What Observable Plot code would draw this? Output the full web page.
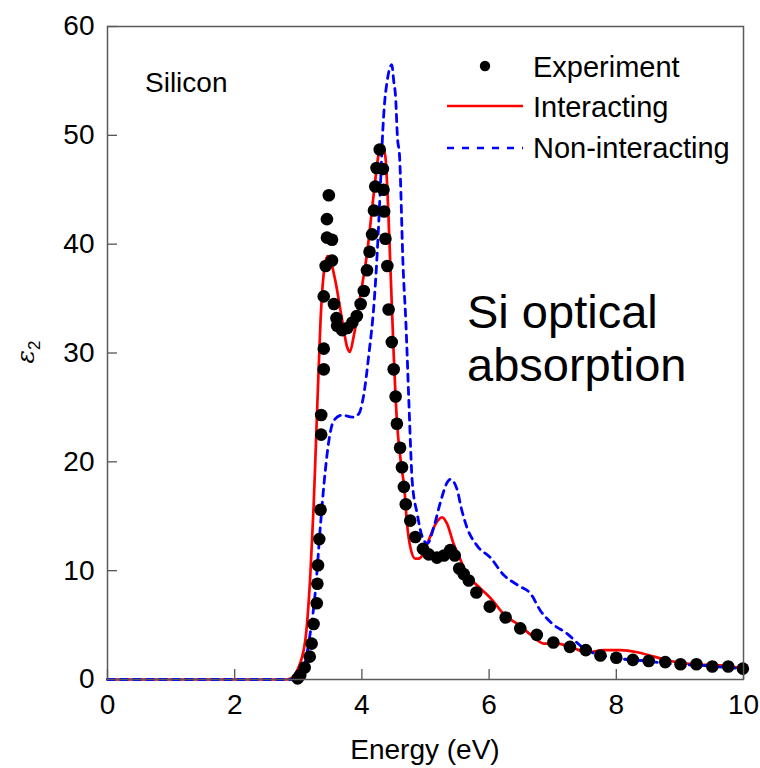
<!DOCTYPE html>
<html>
<head>
<meta charset="utf-8">
<script src="https://cdn.jsdelivr.net/npm/d3@7"></script>
<script src="https://cdn.jsdelivr.net/npm/@observablehq/plot@0.6"></script>
<style>
  body { margin: 0; background: #fff; }
  svg { display: block; }
</style>
</head>
<body>
<div id="chart"></div>
<script>
// Measured ε2 of silicon (photon energy in eV, ε2)
const experimentE = [2.99, 3.03, 3.10, 3.18, 3.21, 3.24, 3.29, 3.30, 3.31, 3.33, 3.35, 3.36, 3.36, 3.40, 3.40, 3.40, 3.43, 3.45, 3.45, 3.48,
  3.53, 3.53, 3.56, 3.60, 3.61, 3.69, 3.77, 3.85, 3.92, 3.98, 4.03, 4.08, 4.12, 4.16, 4.19, 4.21, 4.23, 4.28, 4.33, 4.34,
  4.35, 4.37, 4.40, 4.42, 4.47, 4.50, 4.53, 4.55, 4.60, 4.63, 4.66, 4.69, 4.76, 4.84, 4.96, 5.05, 5.18, 5.29, 5.39, 5.46,
  5.53, 5.60, 5.68, 5.80, 6.01, 6.26, 6.49, 6.75, 7.01, 7.27, 7.52, 7.75, 8.00, 8.26, 8.51, 8.77, 9.01, 9.26, 9.51, 9.76, 9.99];
const experimentEps = [0.1, 0.4, 1.1, 2.1, 3.3, 5.1, 7.0, 8.8, 10.5, 12.9, 15.6, 22.5, 24.3, 28.5, 30.4, 35.2, 38.0, 40.6, 42.3, 44.5,
  40.4, 38.5, 34.5, 33.2, 32.5, 32.1, 32.3, 32.8, 33.4, 34.5, 35.7, 37.6, 39.3, 40.9, 43.1, 45.3, 47.0, 48.7, 46.9, 45.0,
  43.0, 40.5, 38.0, 34.0, 31.0, 28.5, 26.0, 23.5, 21.3, 19.5, 17.7, 16.1, 14.6, 13.1, 12.0, 11.5, 11.2, 11.4, 11.9, 11.4,
  10.2, 9.7, 9.1, 8.0, 6.7, 5.7, 4.7, 4.1, 3.4, 3.0, 2.7, 2.2, 2.0, 1.8, 1.7, 1.6, 1.4, 1.4, 1.2, 1.2, 1.0];

// Calculation with electron-hole interaction
const interactingE = [0, 2.80, 2.88, 2.98, 3.11, 3.19, 3.24, 3.27, 3.31, 3.35, 3.40, 3.46, 3.50, 3.58, 3.69, 3.77, 3.81, 3.87, 3.98, 4.08,
  4.18, 4.27, 4.31, 4.37, 4.41, 4.45, 4.50, 4.55, 4.61, 4.67, 4.71, 4.76, 4.84, 4.89, 4.97, 5.05, 5.16, 5.26, 5.34, 5.44,
  5.55, 5.65, 5.86, 6.05, 6.23, 6.47, 6.68, 6.86, 7.07, 7.28, 7.54, 7.80, 8.07, 8.33, 8.59, 8.85, 9.22, 9.64, 10.0];
const interactingEps = [0, 0, 0.1, 0.8, 3.6, 9.7, 15.8, 20.5, 27.0, 33.0, 37.3, 38.9, 38.6, 36.7, 33.0, 30.5, 30.1, 31.5, 35.4, 39.1,
  44.3, 48.5, 49.2, 48.0, 43.7, 37.6, 29.9, 23.8, 20.1, 17.4, 14.3, 12.2, 11.1, 11.1, 11.6, 12.8, 14.3, 14.9, 14.3, 12.5,
  11.0, 9.7, 8.4, 7.3, 6.0, 5.0, 4.0, 3.3, 3.3, 3.0, 2.5, 2.7, 2.7, 2.5, 2.1, 1.7, 1.4, 1.3, 1.0];

// Independent-particle calculation
const nonInteractingE = [0, 2.95, 3.03, 3.17, 3.27, 3.35, 3.43, 3.47, 3.56, 3.69, 3.85, 3.95, 4.03, 4.11, 4.19, 4.24, 4.29, 4.33, 4.36, 4.39,
  4.44, 4.47, 4.50, 4.53, 4.56, 4.59, 4.65, 4.69, 4.74, 4.77, 4.79, 4.87, 4.95, 5.03, 5.13, 5.24, 5.34, 5.39, 5.50, 5.56,
  5.65, 5.81, 6.02, 6.23, 6.47, 6.65, 6.81, 7.00, 7.23, 7.44, 7.65, 7.86, 8.07, 8.48, 8.90, 9.32, 9.74, 10.0];
const nonInteractingEps = [0, 0, 0.1, 3.6, 8.2, 14.3, 19.5, 21.5, 23.8, 24.3, 24.1, 24.4, 26.2, 29.9, 34.5, 39.1, 45.2, 50.6, 53.2, 54.7,
  56.2, 56.5, 55.0, 53.5, 49.7, 48.3, 37.6, 33.0, 25.3, 20.7, 18.3, 15.2, 13.1, 12.5, 14.0, 16.4, 18.1, 18.4, 17.4, 15.8,
  14.0, 12.3, 11.2, 9.6, 8.6, 7.9, 6.3, 5.1, 4.2, 3.1, 2.4, 2.1, 1.9, 1.7, 1.4, 1.3, 1.1, 1.0];

const xTicks = [0, 2, 4, 6, 8, 10];
const yTicks = [0, 10, 20, 30, 40, 50, 60];

const experiment = experimentE.map((e, i) => ({e, eps: experimentEps[i]}));
const interacting = interactingE.map((e, i) => ({e, eps: interactingEps[i]}));
const nonInteracting = nonInteractingE.map((e, i) => ({e, eps: nonInteractingEps[i]}));

const FONT = "'Liberation Sans', Arial, Helvetica, sans-serif";
const W = 760, H = 768;
const mL = 107, mR = 17, mT = 26, mB = 89;
const TICK = 10;
const plotW = W - mL - mR, plotH = H - mT - mB;

const chart = Plot.plot({
  width: W,
  height: H,
  marginLeft: mL,
  marginRight: mR,
  marginTop: mT,
  marginBottom: mB,
  style: {fontFamily: FONT, fontSize: "28px", background: "#fff", color: "#000"},
  x: {domain: [0, 10]},
  y: {domain: [0, 60]},
  marks: [
    // tick labels only; the tick marks point inward and are drawn below
    Plot.axisX({ticks: xTicks, tickSize: 0, tickPadding: 15, label: null, fontSize: 28}),
    Plot.axisY({ticks: yTicks, tickSize: 0, tickPadding: 13, label: null, fontSize: 28}),
    Plot.tickX(xTicks, {x: d => d, insetTop: plotH - TICK, stroke: "#555", strokeWidth: 1.3}),
    Plot.tickY(yTicks, {y: d => d, insetRight: plotW - TICK, stroke: "#555", strokeWidth: 1.3}),
    Plot.line(interacting, {x: "e", y: "eps", stroke: "#ff0000", strokeWidth: 2.7, curve: "monotone-x"}),
    Plot.line(nonInteracting, {x: "e", y: "eps", stroke: "#0000ff", strokeWidth: 2.8, strokeDasharray: "7,6", curve: "monotone-x"}),
    Plot.dot(experiment, {x: "e", y: "eps", r: 6.3, fill: "#000", stroke: "none"}),
    Plot.frame({stroke: "#5a5a5a", strokeWidth: 1.5})
  ]
});

document.getElementById("chart").appendChild(chart);

const svg = d3.select(chart);

// legend inside the plot area
const leg = svg.append("g").attr("font-family", FONT).attr("font-size", 29).attr("fill", "#000")
  .attr("text-anchor", "start");
leg.append("circle").attr("cx", 485).attr("cy", 66).attr("r", 5.2).attr("fill", "#000");
leg.append("line").attr("x1", 447).attr("x2", 523).attr("y1", 106).attr("y2", 106)
  .attr("stroke", "#ff0000").attr("stroke-width", 2.7);
leg.append("line").attr("x1", 447).attr("x2", 523).attr("y1", 148).attr("y2", 148)
  .attr("stroke", "#0000ff").attr("stroke-width", 2.7).attr("stroke-dasharray", "7,8");
const legendLabels = ["Experiment", "Interacting", "Non-interacting"];
legendLabels.forEach((t, i) => {
  leg.append("text").attr("x", 533).attr("y", [77, 117, 158][i]).text(t);
});

// material name
svg.append("text").attr("x", 145).attr("y", 92).attr("text-anchor", "start").attr("font-family", FONT)
  .attr("font-size", 28).attr("fill", "#000").text("Silicon");

// annotation
const ann = svg.append("text").attr("text-anchor", "start").attr("font-family", FONT)
  .attr("font-size", 47).attr("fill", "#000");
ann.append("tspan").attr("x", 467).attr("y", 328).text("Si optical");
ann.append("tspan").attr("x", 467).attr("y", 381).text("absorption");

// axis titles
svg.append("text").attr("x", mL + plotW / 2).attr("y", 759).attr("text-anchor", "middle")
  .attr("font-family", FONT).attr("font-size", 28).attr("fill", "#000").text("Energy (eV)");
const yl = svg.append("text").attr("transform", "translate(34,352) rotate(-90)").attr("text-anchor", "middle")
  .attr("font-family", FONT).attr("font-size", 25).attr("fill", "#000");
yl.append("tspan").attr("font-style", "italic").attr("font-family", "'DejaVu Serif', serif").text("ε");
yl.append("tspan").attr("font-size", 17).attr("dy", 6).text("2");
</script>
</body>
</html>
